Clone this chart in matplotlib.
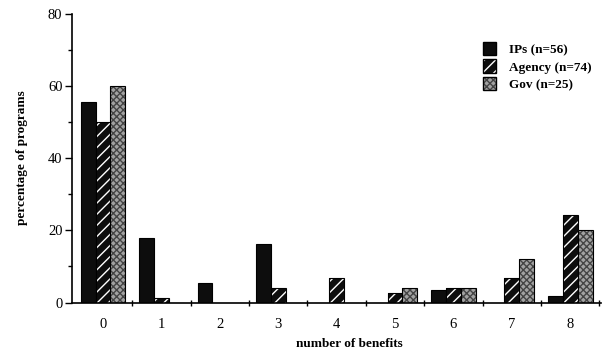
import numpy as np
import matplotlib

matplotlib.use("Agg")

import matplotlib.pyplot as plt
from matplotlib.patches import Patch
from matplotlib.legend_handler import HandlerTuple

plt.rcParams["font.family"] = ["Liberation Serif", "DejaVu Serif"]
plt.rcParams["hatch.linewidth"] = 1.0

# number of benefits (categories)
benefits = [0, 1, 2, 3, 4, 5, 6, 7, 8]
tick_labels = ["0", "1", "2", "3", "4", "5", "6", "7", "8"]

# percentage of programs per group
ips = [55.4, 17.9, 5.4, 16.1, 0, 0, 3.6, 0, 1.8]
agency = [50.0, 1.4, 0, 4.1, 6.8, 2.7, 4.1, 6.8, 24.3]
gov = [60.0, 0, 0, 0, 0, 4.0, 4.0, 12.0, 20.0]

series_names = ["IPs (n=56)", "Agency (n=74)", "Gov (n=25)"]

WIDTH = 0.255
GREY = "#a2a2a2"
DOTS = "#444444"

fig = plt.figure(figsize=(6.11, 3.56), dpi=100)
ax = fig.add_axes([0.118, 0.15, 0.865, 0.812])

x = np.array(benefits, dtype=float)

# IPs: solid black
ax.bar(x - WIDTH, ips, WIDTH, color="#0d0d0d", edgecolor="black", linewidth=0.8)

# Agency: black with white diagonal stripes, black outline on top
ax.bar(x, agency, WIDTH, color="#0d0d0d", edgecolor="white", hatch="///", linewidth=0)
ax.bar(x, agency, WIDTH, fill=False, edgecolor="black", linewidth=0.8)

# Gov: grey stipple
ax.bar(x + WIDTH, gov, WIDTH, color=GREY, edgecolor=DOTS, hatch="xxxxx", linewidth=0)
ax.bar(x + WIDTH, gov, WIDTH, fill=False, edgecolor="black", linewidth=0.8)

ax.set_xlim(-0.53, 8.52)
ax.set_ylim(0, 80)

ax.spines["top"].set_visible(False)
ax.spines["right"].set_visible(False)
ax.spines["left"].set_linewidth(1.2)
ax.spines["bottom"].set_linewidth(1.2)

ax.set_yticks([0, 20, 40, 60, 80])
ax.set_yticks([10, 30, 50, 70], minor=True)
ax.tick_params(axis="y", which="major", length=5, width=1, labelsize=10.5, pad=2)
ax.tick_params(axis="y", which="minor", length=3, width=1)

ax.set_xticks(x)
ax.set_xticklabels(tick_labels)
ax.set_xticks(np.arange(0.5, 8.6, 1.0), minor=True)
ax.tick_params(axis="x", which="major", length=0, labelsize=10.5, pad=11)
ax.tick_params(axis="x", which="minor", length=4, width=1, direction="inout")

ax.set_xlabel("number of benefits", fontsize=9.5, fontweight="bold", labelpad=5, x=0.525)
ax.set_ylabel("percentage of programs", fontsize=9.5, fontweight="bold", labelpad=14)

handles = [
    Patch(facecolor="#0d0d0d", edgecolor="black"),
    (Patch(facecolor="#0d0d0d", edgecolor="white", hatch="///", linewidth=0),
     Patch(fill=False, edgecolor="black")),
    (Patch(facecolor=GREY, edgecolor=DOTS, hatch="xxxxx", linewidth=0),
     Patch(fill=False, edgecolor="black")),
]
leg = ax.legend(
    handles,
    series_names,
    handler_map={tuple: HandlerTuple(ndivide=1)},
    loc="upper left",
    bbox_to_anchor=(0.755, 0.943),
    frameon=False,
    handlelength=1.0,
    handleheight=1.2,
    handletextpad=1.0,
    labelspacing=0.25,
    prop={"weight": "bold", "size": 9.5},
)

fig.savefig("out.png", dpi=100)
